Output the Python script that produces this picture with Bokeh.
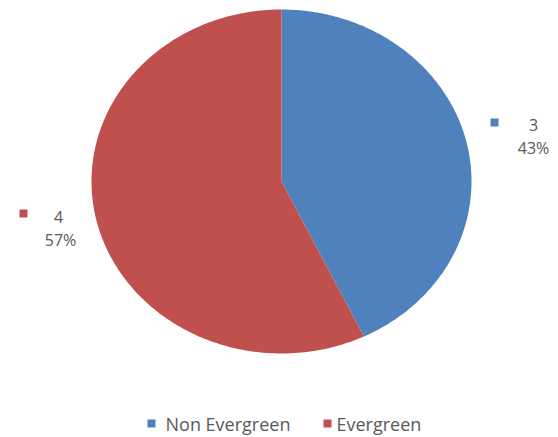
import numpy as np
from bokeh.plotting import figure
from bokeh.models import Range1d
from bokeh.core.properties import value
from bokeh.embed import file_html
from bokeh.resources import INLINE

# ---- data ----
categories = ["Non Evergreen", "Evergreen"]
counts = [3, 4]
colors = ["#4F81BD", "#C0504D"]

# ---- layout constants (pixel space) ----
W, H = 558, 437
cx, cy = 281, 181
rx, ry = 190, 172

p = figure(width=W, height=H, output_backend="svg", toolbar_location=None,
           x_range=Range1d(0, W), y_range=Range1d(H, 0), min_border=0)
p.axis.visible = False
p.grid.visible = False
p.outline_line_color = None
p.background_fill_color = "white"

total = sum(counts)
fracs = [c / total for c in counts]
start = np.pi / 2  # 12 o'clock, going clockwise
xs, ys = [], []
for f in fracs:
    end = start - 2 * np.pi * f
    t = np.linspace(start, end, 200)
    xs.append(list(np.concatenate([[cx], cx + rx * np.cos(t), [cx]])))
    ys.append(list(np.concatenate([[cy], cy - ry * np.sin(t), [cy]])))
    start = end
p.patches(xs=xs, ys=ys, fill_color=colors, line_color=None)

# data labels
pct = [f"{round(f * 100)}%" for f in fracs]
lab_sq_x = [494, 23]
lab_sq_y = [122, 213]
lab_num_x = [533, 58]
lab_num_y = [124, 216]
lab_pct_x = [533, 60]
lab_pct_y = [147, 239]
font = value("Open Sans")
p.rect(x=lab_sq_x, y=lab_sq_y, width=8, height=8, width_units="screen",
       height_units="screen", fill_color=colors, line_color=None)
p.text(x=lab_num_x, y=lab_num_y, text=[str(c) for c in counts], text_font=font,
       text_font_size="16px", text_color="#595959", text_align="center",
       text_baseline="middle")
p.text(x=lab_pct_x, y=lab_pct_y, text=pct, text_font=font,
       text_font_size="16px", text_color="#595959", text_align="center",
       text_baseline="middle")

# legend
leg_sq_x = [151, 327]
leg_text_x = [165, 336]
leg_y = 423
p.rect(x=leg_sq_x, y=[leg_y, leg_y], width=8, height=8, width_units="screen",
       height_units="screen", fill_color=colors, line_color=None)
p.text(x=leg_text_x, y=[leg_y, leg_y], text=categories, text_font=font,
       text_font_size="18px", text_color="#595959", text_align="left",
       text_baseline="middle")

open("out.html", "w").write(file_html(p, INLINE))
